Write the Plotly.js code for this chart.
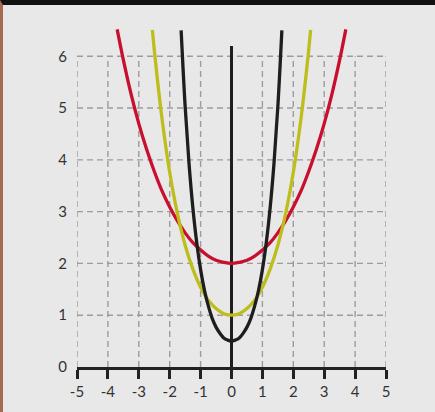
<!DOCTYPE html>
<html>
<head>
<meta charset="utf-8">
<script src="https://cdn.plot.ly/plotly-3.0.1.min.js"></script>
<style>
html,body{margin:0;padding:0;background:#e8e8e8;}
#wrap{width:432px;height:407px;border-top:5px solid #111;border-left:3px solid #a46a52;background:#e8e8e8;}
#chart{width:432px;height:407px;}
</style>
</head>
<body>
<div id="wrap"><div id="chart"></div></div>
<script>
// Tick values and labels
var xTicks = [-5,-4,-3,-2,-1,0,1,2,3,4,5];
var xTickLabels = ["-5","-4","-3","-2","-1","0","1","2","3","4","5"];
var yTicks = [0,1,2,3,4,5,6];
var yTickLabels = ["0","1","2","3","4","5","6"];

// Red curve (widest)
var redX = [-3.7,-3.5,-3.25,-3,-2.75,-2.5,-2.25,-2,-1.75,-1.5,-1.25,-1,-0.75,-0.5,-0.25,0,0.25,0.5,0.75,1,1.25,1.5,1.75,2,2.25,2.5,2.75,3,3.25,3.5,3.7];
var redY = [6.52,5.93,5.27,4.70,4.21,3.78,3.40,3.09,2.82,2.59,2.40,2.26,2.14,2.06,2.02,2.00,2.02,2.06,2.14,2.26,2.40,2.59,2.82,3.09,3.40,3.78,4.21,4.70,5.27,5.93,6.52];

// Yellow curve (middle)
var yellowX = [-2.56,-2.5,-2.25,-2,-1.75,-1.5,-1.25,-1,-0.75,-0.5,-0.25,0,0.25,0.5,0.75,1,1.25,1.5,1.75,2,2.25,2.5,2.56];
var yellowY = [6.51,6.13,4.80,3.76,2.96,2.35,1.89,1.54,1.29,1.13,1.03,1.00,1.03,1.13,1.29,1.54,1.89,2.35,2.96,3.76,4.80,6.13,6.51];

// Black curve (narrowest)
var blackX = [-1.63,-1.5,-1.375,-1.25,-1.125,-1,-0.875,-0.75,-0.625,-0.5,-0.375,-0.25,-0.125,0,0.125,0.25,0.375,0.5,0.625,0.75,0.875,1,1.125,1.25,1.375,1.5,1.63];
var blackY = [6.50,5.03,3.93,3.07,2.40,1.88,1.48,1.18,0.94,0.77,0.65,0.56,0.52,0.50,0.52,0.56,0.65,0.77,0.94,1.18,1.48,1.88,2.40,3.07,3.93,5.03,6.50];

// Vertical axis line at x = 0
var axisX = [0,0];
var axisY = [0,6.2];

var gridColor = "#9c9c9c";
var shapes = [];
xTicks.forEach(function(v){
  if (v === 0) return;
  shapes.push({type:"line", xref:"x", yref:"y", x0:v, x1:v, y0:0, y1:yTicks[yTicks.length-1],
    line:{color:gridColor, width:1.4, dash:"6px,4px"}, layer:"below"});
});
yTicks.forEach(function(v){
  if (v === 0) return;
  shapes.push({type:"line", xref:"x", yref:"y", x0:xTicks[0], x1:xTicks[xTicks.length-1], y0:v, y1:v,
    line:{color:gridColor, width:1.4, dash:"6px,4px"}, layer:"below"});
});

var traces = [
  {x:axisX, y:axisY, mode:"lines", line:{color:"#1e1e1e", width:3}, hoverinfo:"skip"},
  {x:redX, y:redY, mode:"lines", line:{color:"#c8102e", width:3.3, shape:"spline"}},
  {x:yellowX, y:yellowY, mode:"lines", line:{color:"#bdbd1c", width:3.3, shape:"spline"}},
  {x:blackX, y:blackY, mode:"lines", line:{color:"#1e1e1e", width:3.3, shape:"spline"}}
];

var layout = {
  width:432, height:407,
  margin:{l:74, r:49, t:15, b:45},
  paper_bgcolor:"#e8e8e8",
  plot_bgcolor:"#e8e8e8",
  showlegend:false,
  font:{family:"Lato, 'Open Sans', sans-serif", size:15, color:"#333"},
  xaxis:{
    range:[-5,5], tickvals:xTicks, ticktext:xTickLabels,
    showgrid:false, zeroline:false,
    showline:true, linecolor:"#222", linewidth:3,
    ticks:"outside", ticklen:9, tickwidth:3, tickcolor:"#222",
    tickfont:{size:15, color:"#333"}, fixedrange:true
  },
  yaxis:{
    range:[0,6.7], tickvals:yTicks, ticktext:yTickLabels,
    showgrid:false, zeroline:false, showline:false,
    ticks:"", ticklabelstandoff:9,
    tickfont:{size:15, color:"#333"}, fixedrange:true
  },
  shapes:shapes
};

Plotly.newPlot("chart", traces, layout, {displayModeBar:false, staticPlot:true});
</script>
</body>
</html>
